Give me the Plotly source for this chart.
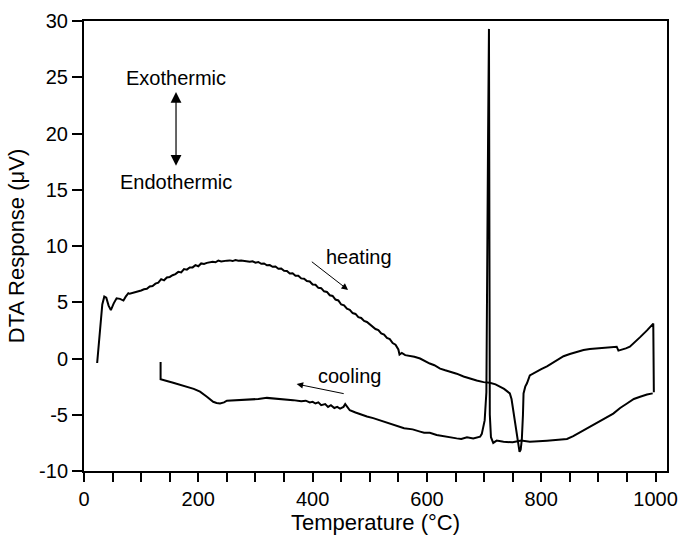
import plotly.graph_objects as go

heat_x = [23, 26, 29, 32, 35.5, 39, 43, 47, 52, 57, 63, 69, 73, 77.6,
          80, 85, 90, 95, 100, 105, 110, 115, 120, 125, 130, 135, 140, 145, 150, 155, 160, 165, 170, 175,
          180, 185, 190, 195, 200, 205, 210, 215, 220, 225, 230, 235, 240, 245, 250, 255, 260, 265, 270,
          275, 280, 285, 290, 295, 300, 305, 310, 315, 320, 325, 330, 335, 340, 345, 350, 355, 360, 365,
          370, 375, 380, 385, 390, 395, 400, 405, 410, 415, 420, 425, 430, 435, 440, 445, 450, 455, 460,
          465, 470, 475, 480, 485, 490, 495, 500, 505, 510, 515, 520, 525, 530, 535, 540, 545, 550,
          552, 556, 562, 570, 578, 588, 595, 605, 613, 623, 632, 642, 652, 664, 675, 687, 699, 710, 720,
          728, 735, 740, 745, 748, 751, 754, 757, 760, 762, 764, 766, 768, 769, 772, 775, 780, 790, 800,
          810, 820, 830, 839, 850, 860, 874, 885, 897, 910, 920, 929, 932, 935, 940, 948, 955, 965, 973,
          985, 996, 997]
heat_y = [-0.4, 1.5, 3.5, 4.8, 5.5, 5.4, 4.7, 4.3, 4.9, 5.35, 5.3, 5.15, 5.5, 5.8,
          5.75, 5.82, 5.85, 5.95, 6.05, 6.15, 6.2, 6.4, 6.45, 6.65, 6.75, 7.05, 6.95, 7.2, 7.25, 7.4, 7.5, 7.7, 7.65, 7.95,
          7.9, 8.1, 8.1, 8.3, 8.2, 8.45, 8.4, 8.5, 8.55, 8.6, 8.55, 8.7, 8.62, 8.68, 8.7, 8.72, 8.66, 8.75, 8.7,
          8.72, 8.68, 8.7, 8.6, 8.64, 8.52, 8.58, 8.42, 8.45, 8.28, 8.3, 8.15, 8.18, 7.98, 8.0, 7.8, 7.78, 7.55, 7.58,
          7.35, 7.35, 7.12, 7.1, 6.88, 6.85, 6.58, 6.55, 6.28, 6.25, 5.97, 5.92, 5.62, 5.56, 5.24, 5.16, 4.8, 4.72, 4.42,
          4.33, 4.04, 3.96, 3.68, 3.6, 3.34, 3.25, 3.02, 2.88, 2.62, 2.52, 2.22, 2.12, 1.82, 1.72, 1.38, 1.22, 0.8,
          0.35, 0.5, 0.3, 0.25, 0.15, 0.0, -0.2, -0.45, -0.6, -0.9, -1.05, -1.2, -1.35, -1.6, -1.8, -1.95, -2.1, -2.15, -2.3,
          -2.5, -2.7, -2.9, -3.1, -3.6, -4.6, -5.8, -7.0, -7.9, -8.3, -8.1, -7.2, -5.0, -3.1, -2.5, -2.2, -1.5, -1.2, -0.95,
          -0.7, -0.4, -0.1, 0.2, 0.4, 0.55, 0.75, 0.85, 0.9, 0.9, 1.0, 1.0, 1.05, 0.7, 0.75, 0.9, 1.05, 1.5, 1.9,
          2.5, 3.1, -3.0]

cool_x = [995, 985, 973, 962, 950, 938, 926, 912, 897, 882, 868, 856, 845, 828, 810, 795, 780, 765, 750, 734,
          722, 716, 712, 710, 709, 708.5, 707, 705.5, 704, 701, 699, 696, 693, 687, 681, 670, 660, 652, 640, 628,
          617, 605, 595, 588, 575, 560, 547, 535, 520, 506, 495, 483, 475, 465, 460, 457, 454, 448, 443, 438,
          432, 427, 422, 415, 410, 405, 400, 395, 388, 380, 366, 350, 335, 320, 305, 292, 279, 265, 250, 245,
          238, 232, 226, 215, 203, 192, 180, 168, 156, 145, 134, 134]
cool_y = [-3.1, -3.2, -3.4, -3.6, -4.0, -4.4, -4.9, -5.3, -5.8, -6.2, -6.6, -6.9, -7.15, -7.25, -7.3, -7.35, -7.4, -7.3, -7.45, -7.4,
          -7.3, -7.5, -7.0, -5.0, 10, 29.3, 20, 5, -3, -5.5, -6.1, -6.7, -6.95, -7.05, -7.1, -7.0, -7.15, -7.1, -7.0, -6.95,
          -6.8, -6.6, -6.6, -6.5, -6.3, -6.2, -5.97, -5.75, -5.5, -5.3, -5.15, -4.9, -4.8, -4.6, -4.3, -4.05, -4.3, -4.45, -4.3, -4.4,
          -4.15, -4.3, -4.05, -4.15, -3.9, -4.0, -3.85, -3.9, -3.75, -3.8, -3.7, -3.65, -3.6, -3.5, -3.6, -3.65, -3.7, -3.75, -3.75, -3.9,
          -4.0, -3.95, -3.85, -3.4, -2.95, -2.7, -2.5, -2.3, -2.15, -2.0, -1.85, -0.3]

x_ticks = [0, 200, 400, 600, 800, 1000]
y_ticks = [-10, -5, 0, 5, 10, 15, 20, 25, 30]
y_tick_text = [str(v) for v in y_ticks]

FONT = "Liberation Sans, Arial, sans-serif"

fig = go.Figure()
fig.add_trace(go.Scatter(x=heat_x, y=heat_y, mode="lines",
                         line=dict(color="black", width=2), showlegend=False))
fig.add_trace(go.Scatter(x=cool_x, y=cool_y, mode="lines",
                         line=dict(color="black", width=2), showlegend=False))

ann_font = dict(family=FONT, size=20, color="black")
fig.add_annotation(x=161, y=24.9, text="Exothermic", showarrow=False, font=ann_font)
fig.add_annotation(x=161, y=15.7, text="Endothermic", showarrow=False, font=ann_font)
fig.add_annotation(x=161, y=23.7, ax=161, ay=17.0, axref="x", ayref="y",
                   text="", showarrow=True, arrowhead=2, startarrowhead=2,
                   arrowside="end+start", arrowsize=1.8, startarrowsize=1.8,
                   arrowwidth=1.2, arrowcolor="black")
fig.add_annotation(x=481, y=9.0, text="heating", showarrow=False, font=ann_font)
fig.add_annotation(x=462, y=6.1, ax=396, ay=8.7, axref="x", ayref="y",
                   text="", showarrow=True, arrowhead=2, arrowsize=1.3,
                   arrowwidth=1, arrowcolor="black")
fig.add_annotation(x=465, y=-1.55, text="cooling", showarrow=False, font=ann_font)
fig.add_annotation(x=372, y=-2.27, ax=457, ay=-3.15, axref="x", ayref="y",
                   text="", showarrow=True, arrowhead=2, arrowsize=1.3,
                   arrowwidth=1, arrowcolor="black")

fig.update_layout(
    width=678, height=539,
    margin=dict(l=84, r=11, t=21, b=68),
    paper_bgcolor="white", plot_bgcolor="white",
    font=dict(family=FONT, size=20, color="black"),
)
fig.update_xaxes(
    range=[0, 1020], tickvals=x_ticks, ticks="outside", ticklen=9, tickwidth=1.5,
    tickcolor="black", showline=True, linecolor="black", linewidth=2, mirror=True,
    showgrid=False, zeroline=False, automargin=False,
    minor=dict(dtick=50, tick0=0, ticks="outside", ticklen=9, tickwidth=1.5, tickcolor="black"),
    title=dict(text="Temperature (°C)", font=dict(family=FONT, size=22), standoff=6),
    tickfont=dict(family=FONT, size=20),
)
fig.update_yaxes(
    range=[-10, 30], tickvals=y_ticks, ticktext=y_tick_text, ticks="outside", ticklen=10,
    tickwidth=1.5, tickcolor="black", showline=True, linecolor="black", linewidth=2,
    mirror=True, showgrid=False, zeroline=False, automargin=False,
    title=dict(text="DTA Response (μV)", font=dict(family=FONT, size=22), standoff=8),
    tickfont=dict(family=FONT, size=20),
)

fig.write_html(
    "out.html",
    config={"displayModeBar": False},
    post_script="document.body.style.margin='0';document.body.style.overflow='hidden';",
)
